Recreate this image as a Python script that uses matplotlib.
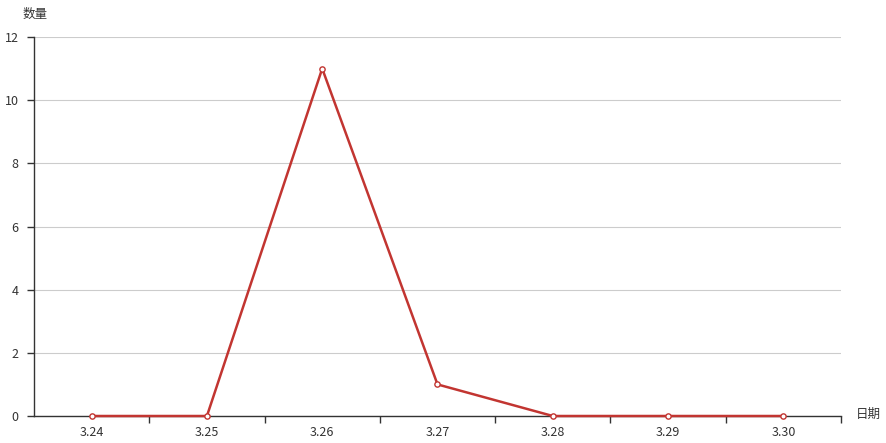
import matplotlib.pyplot as plt
import numpy as np

plt.rcParams['font.family'] = ['Noto Sans CJK SC', 'DejaVu Sans']

dates = ["3.24", "3.25", "3.26", "3.27", "3.28", "3.29", "3.30"]
counts = [0, 0, 11, 1, 0, 0, 0]
y_ticks = [0, 2, 4, 6, 8, 10, 12]

fig = plt.figure(figsize=(8.87, 4.43), dpi=100)
ax = fig.add_axes([34 / 887, 27 / 443, 807 / 887, 379 / 443])

x = np.arange(len(dates))
ax.plot(x, counts, color='#c23531', lw=1.8, zorder=3,
        marker='o', markersize=3.8, markerfacecolor='white',
        markeredgecolor='#c23531', markeredgewidth=1, clip_on=False)

ax.set_xlim(-0.5, len(dates) - 0.5)
ax.set_ylim(0, 12)

# category axis: ticks on boundaries (not the first one), labels at centres
ax.set_xticks(np.arange(1, len(dates) + 1) - 0.5)
ax.set_xticklabels([])
ax.set_xticks(x, minor=True)
ax.set_xticklabels(dates, minor=True)
ax.tick_params(axis='x', which='major', length=5, width=1, color='#333333', direction='out')
ax.tick_params(axis='x', which='minor', length=0, pad=7, labelsize=9, labelcolor='#333333')

ax.set_yticks(y_ticks)
ax.tick_params(axis='y', length=5, width=1, color='#333333', pad=6, labelsize=9, labelcolor='#333333')

ax.grid(axis='y', color='#cccccc', lw=0.8)
ax.set_axisbelow(True)

for s in ['top', 'right']:
    ax.spines[s].set_visible(False)
for s in ['left', 'bottom']:
    ax.spines[s].set_color('#333333')
    ax.spines[s].set_linewidth(1)

fig.text(35 / 887, 1 - 14 / 443, "数量", ha='center', va='center', fontsize=9, color='#333333')
fig.text(868 / 887, 1 - 414 / 443, "日期", ha='center', va='center', fontsize=9, color='#333333')

fig.savefig("out.png", dpi=100)
